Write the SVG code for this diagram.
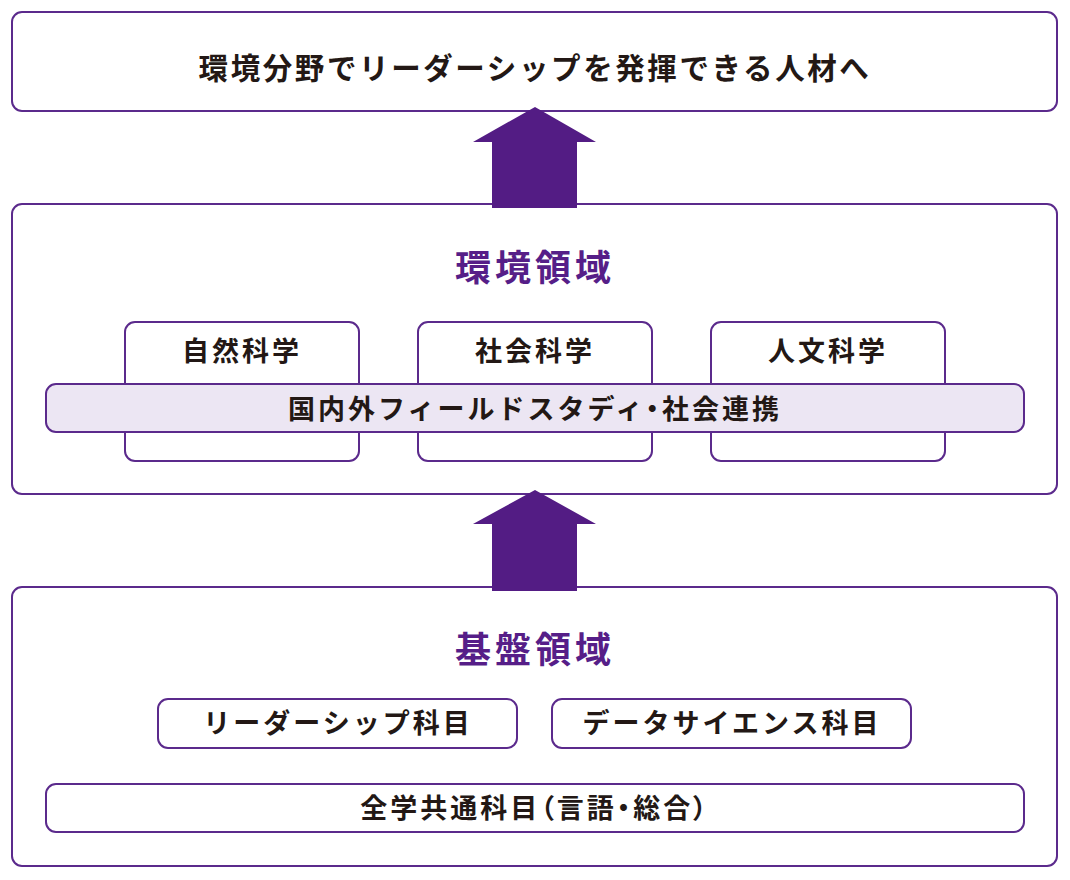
<svg xmlns="http://www.w3.org/2000/svg" width="1070" height="880" viewBox="0 0 1070 880">
<style>
.box{fill:#fff;stroke:#5b2a8c;stroke-width:2}
.band{fill:#ece6f3;stroke:#5b2a8c;stroke-width:2}
.t{font-family:"Noto Sans CJK JP","Noto Sans",sans-serif;font-weight:bold;fill:#231815;text-anchor:middle}
.h{font-family:"Noto Sans CJK JP","Noto Sans",sans-serif;font-weight:bold;fill:#561e88;text-anchor:middle}
.p{font-feature-settings:"palt"}
.arrow{fill:#531c84}
</style>
<rect width="1070" height="880" fill="#fff"/>
<g id="goal">
<rect class="box" x="12" y="12" width="1045" height="99" rx="10"/>
<text class="t" x="535" y="79" font-size="29.5" letter-spacing="2.6">環境分野でリーダーシップを発揮できる人材へ</text>
</g>
<g id="env">
<rect class="box" x="12" y="204" width="1045" height="290" rx="10"/>
<text class="h" x="535" y="281" font-size="36" letter-spacing="4">環境領域</text>
</g>
<g id="natural">
<rect class="box" x="125" y="322" width="234" height="139" rx="10"/>
<text class="t" x="242" y="361" font-size="27" letter-spacing="3">自然科学</text>
</g>
<g id="social">
<rect class="box" x="418" y="322" width="234" height="139" rx="10"/>
<text class="t" x="535" y="361" font-size="27" letter-spacing="3">社会科学</text>
</g>
<g id="humanities">
<rect class="box" x="711" y="322" width="234" height="139" rx="10"/>
<text class="t" x="828" y="361" font-size="27" letter-spacing="3">人文科学</text>
</g>
<g id="field">
<rect class="band" x="46" y="384" width="978" height="48" rx="10"/>
<text class="t" x="535" y="419" font-size="27" letter-spacing="3">国内外フィールドスタディ<tspan class="p">・</tspan>社会連携</text>
</g>
<g id="base">
<rect class="box" x="12" y="587" width="1045" height="279" rx="10"/>
<text class="h" x="535" y="663" font-size="36" letter-spacing="4">基盤領域</text>
</g>
<g id="leadership">
<rect class="box" x="158" y="699" width="359" height="49" rx="10"/>
<text class="t" x="338" y="733" font-size="27" letter-spacing="3">リーダーシップ科目</text>
</g>
<g id="datascience">
<rect class="box" x="552" y="699" width="359" height="49" rx="10"/>
<text class="t" x="732" y="733" font-size="27" letter-spacing="3">データサイエンス科目</text>
</g>
<g id="common">
<rect class="box" x="46" y="784" width="978" height="48" rx="10"/>
<text class="t" x="535" y="818" font-size="27" letter-spacing="3">全学共通科目<tspan class="p">（言語・総合）</tspan></text>
</g>
<g id="connectors">
<polygon class="arrow" points="535,107 596,142 577,142 577,208 492,208 492,142 473,142"/>
<polygon class="arrow" points="535,490 596,524 577,524 577,591 492,591 492,524 473,524"/>
</g>
</svg>
